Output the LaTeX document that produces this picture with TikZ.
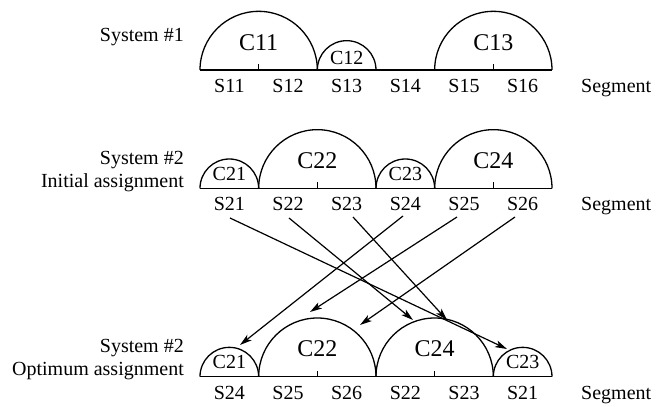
\documentclass[tikz,border=0pt]{standalone}
\usepackage{fontspec}
\setmainfont{Liberation Serif}
\usetikzlibrary{arrows.meta}

\begin{document}
\begin{tikzpicture}[x=1pt,y=-1pt,
  txt/.style={font=\fontsize{20}{24}\selectfont, inner sep=0pt},
  seglbl/.style={txt, anchor=base},
  sidelbl/.style={txt, anchor=base east},
  cbig/.style={font=\fontsize{24}{28}\selectfont, inner sep=0pt},
  csmall/.style={txt},
  rule/.style={line width=1.3pt},
  link/.style={line width=1.2pt, -{Stealth[length=12pt,width=7pt,inset=3pt]}}]
\useasboundingbox (0,0) rectangle (657,407);

% ---------- System #1 ----------
\node[sidelbl] (sys1) at (184,41) {System \#1};
\draw[rule] (200,70) -- (552,70);
\draw[rule] (200,70) arc[start angle=180,end angle=0,radius=58.67pt];
\draw[rule] (317.33,70) arc[start angle=180,end angle=0,radius=29.33pt];
\draw[rule] (434.67,70) arc[start angle=180,end angle=0,radius=58.67pt];
\draw[rule] (258.67,70) -- (258.67,64);
\draw[rule] (493.33,70) -- (493.33,64);
\node[cbig] (c11) at (258.67,43) {C11};
\node[csmall] (c12) at (346.67,58) {C12};
\node[cbig] (c13) at (493.33,43) {C13};
\node[seglbl] (s11) at (229.33,92) {S11};
\node[seglbl] (s12) at (288,92) {S12};
\node[seglbl] (s13) at (346.67,92) {S13};
\node[seglbl] (s14) at (405.33,92) {S14};
\node[seglbl] (s15) at (464,92) {S15};
\node[seglbl] (s16) at (522.67,92) {S16};
\node[txt, anchor=base west] (seg1) at (581,92) {Segment};

% ---------- System #2, initial assignment ----------
\node[sidelbl] (sys2a) at (184,164) {System \#2};
\node[sidelbl] (init) at (184,187) {Initial assignment};
\draw[rule] (200,188.33) -- (552,188.33);
\draw[rule] (200,188.33) arc[start angle=180,end angle=0,radius=29.33pt];
\draw[rule] (258.67,188.33) arc[start angle=180,end angle=0,radius=58.67pt];
\draw[rule] (376,188.33) arc[start angle=180,end angle=0,radius=29.33pt];
\draw[rule] (434.67,188.33) arc[start angle=180,end angle=0,radius=58.67pt];
\draw[rule] (317.33,188.33) -- (317.33,182.33);
\draw[rule] (493.33,188.33) -- (493.33,182.33);
\node[csmall] (c21a) at (229.33,174) {C21};
\node[cbig] (c22a) at (317.33,161) {C22};
\node[csmall] (c23a) at (405.33,174) {C23};
\node[cbig] (c24a) at (493.33,161) {C24};
\node[seglbl] (s21) at (229.33,210.5) {S21};
\node[seglbl] (s22) at (288,210.5) {S22};
\node[seglbl] (s23) at (346.67,210.5) {S23};
\node[seglbl] (s24) at (405.33,210.5) {S24};
\node[seglbl] (s25) at (464,210.5) {S25};
\node[seglbl] (s26) at (522.67,210.5) {S26};
\node[txt, anchor=base west] (seg2) at (581,210.5) {Segment};

% ---------- System #2, optimum assignment ----------
\node[sidelbl] (sys2b) at (184,352) {System \#2};
\node[sidelbl] (opt) at (184,375) {Optimum assignment};
\draw[rule] (200,376.67) -- (552,376.67);
\draw[rule] (200,376.67) arc[start angle=180,end angle=0,radius=29.33pt];
\draw[rule] (258.67,376.67) arc[start angle=180,end angle=0,radius=58.67pt];
\draw[rule] (376,376.67) arc[start angle=180,end angle=0,radius=58.67pt];
\draw[rule] (493.33,376.67) arc[start angle=180,end angle=0,radius=29.33pt];
\draw[rule] (317.33,376.67) -- (317.33,370.67);
\draw[rule] (434.67,376.67) -- (434.67,370.67);
\node[csmall] (c21b) at (229.33,362) {C21};
\node[cbig] (c22b) at (317.33,349) {C22};
\node[cbig] (c24b) at (434.67,349) {C24};
\node[csmall] (c23b) at (522.67,362) {C23};
\node[seglbl] (o24) at (229.33,399.5) {S24};
\node[seglbl] (o25) at (288,399.5) {S25};
\node[seglbl] (o26) at (346.67,399.5) {S26};
\node[seglbl] (o22) at (405.33,399.5) {S22};
\node[seglbl] (o23) at (464,399.5) {S23};
\node[seglbl] (o21) at (522.67,399.5) {S21};
\node[txt, anchor=base west] (seg3) at (581,399.5) {Segment};

% ---------- reassignment arrows ----------
\coordinate (f21) at (230,218);
\coordinate (f22) at (289,218);
\coordinate (f23) at (353,217);
\coordinate (f24) at (403,216);
\coordinate (f25) at (457,217);
\coordinate (f26) at (515,217);
\coordinate (t21) at (507,349);
\coordinate (t22) at (413,320);
\coordinate (t23) at (447,320);
\coordinate (t24) at (240,345);
\coordinate (t25) at (310,312);
\coordinate (t26) at (360,325);
\draw[link] (f21) -- (t21);
\draw[link] (f22) -- (t22);
\draw[link] (f23) -- (t23);
\draw[link] (f24) -- (t24);
\draw[link] (f25) -- (t25);
\draw[link] (f26) -- (t26);
\end{tikzpicture}
\end{document}
